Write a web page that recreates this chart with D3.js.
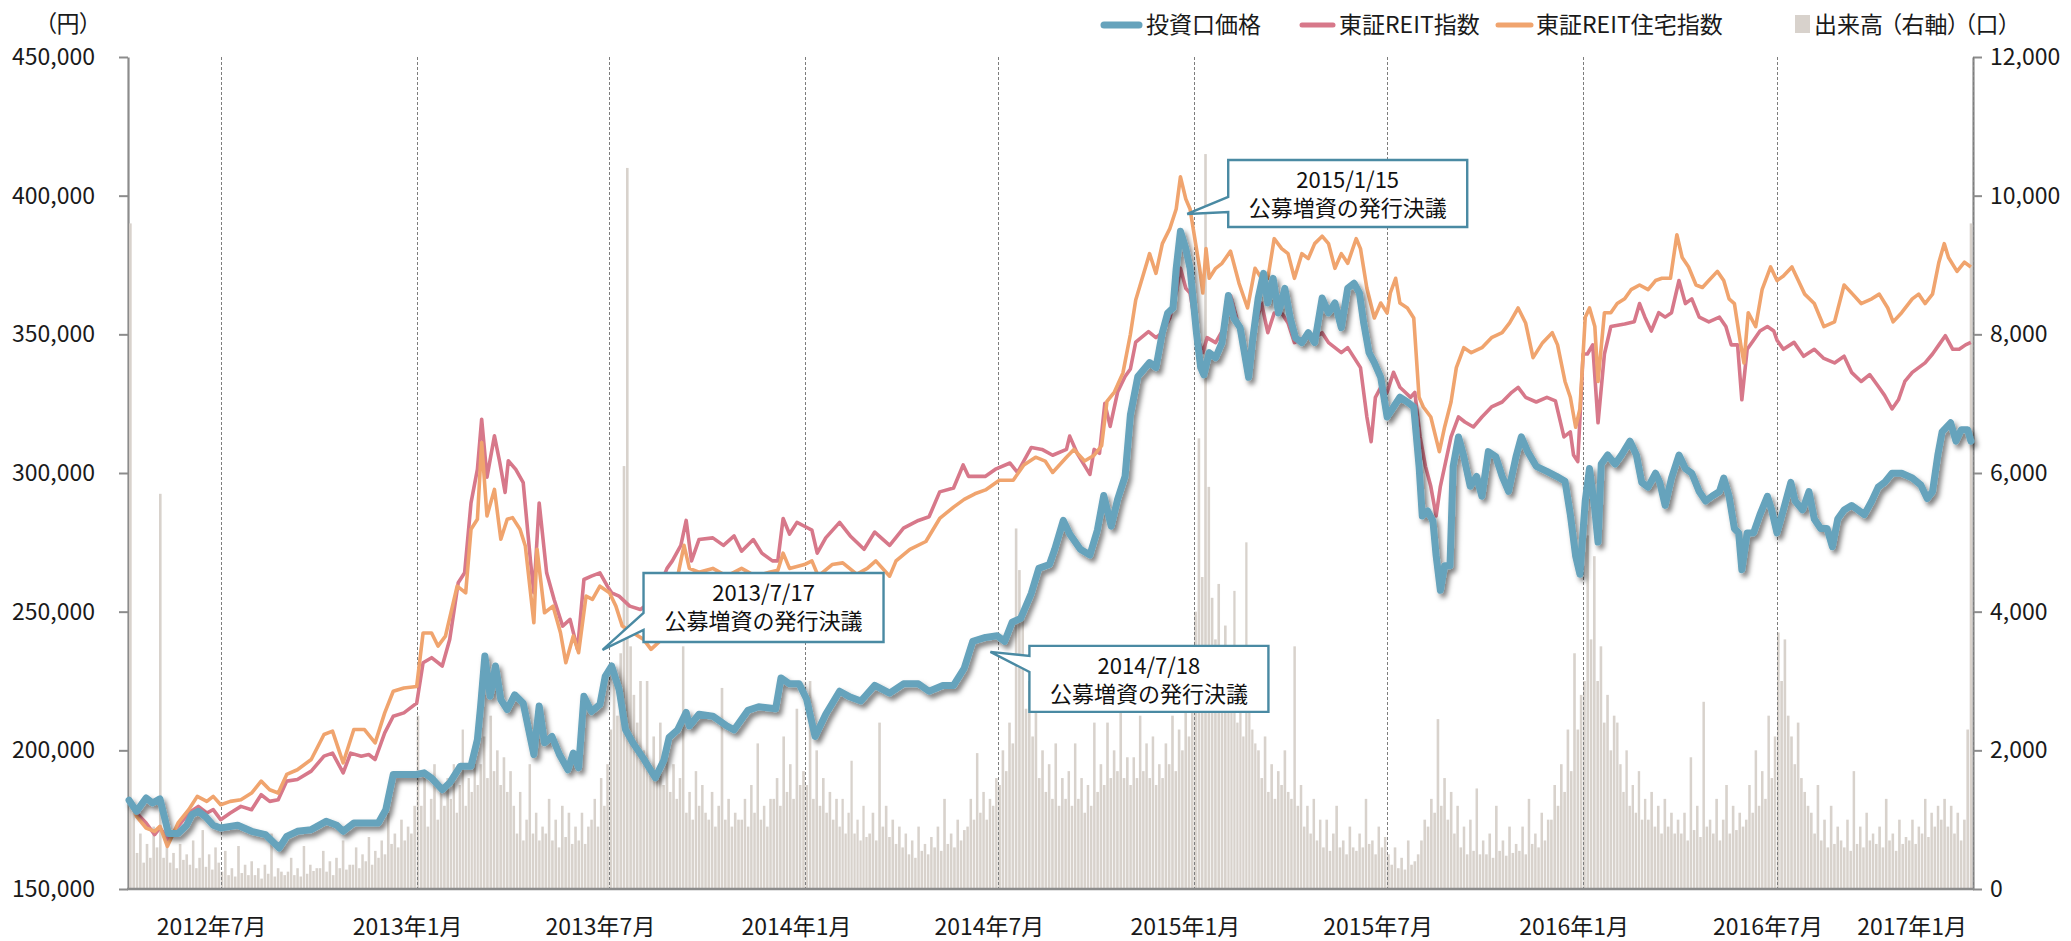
<!DOCTYPE html>
<html lang="ja">
<head>
<meta charset="utf-8">
<script src="https://cdn.jsdelivr.net/npm/d3@7"></script>
<style>
html,body{margin:0;padding:0;background:#fff;}
svg{display:block;font-family:"Noto Sans CJK JP","Noto Sans",sans-serif;}
.palt{font-feature-settings:"palt";}
</style>
</head>
<body>
<svg id="chart" width="2071" height="941"></svg>
<script>
// 投資口価格（円）
const priceData = [
["2012-04-06",182000],["2012-04-13",178000],["2012-04-22",182800],["2012-04-28",181000],["2012-05-05",182500],
["2012-05-13",170000],["2012-05-22",170000],["2012-05-30",173000],["2012-06-04",176800],["2012-06-10",178000],
["2012-06-17",176000],["2012-06-24",173000],["2012-07-01",172000],["2012-07-17",173000],["2012-07-30",170800],
["2012-08-12",169600],["2012-08-25",164800],["2012-09-01",169000],["2012-09-11",170800],["2012-09-24",171400],
["2012-10-08",174400],["2012-10-18",173000],["2012-10-24",170800],["2012-11-03",173800],["2012-11-17",173800],
["2012-11-26",173800],["2012-12-03",178600],["2012-12-10",191300],["2012-12-20",191300],["2013-01-01",191300],
["2013-01-08",191900],["2013-01-15",190000],["2013-01-25",185800],["2013-02-01",188300],["2013-02-11",194300],
["2013-02-21",194300],["2013-02-27",203900],["2013-03-02",215900],["2013-03-06",234000],["2013-03-11",219500],
["2013-03-16",230400],["2013-03-21",218300],["2013-03-27",214700],["2013-04-03",220000],["2013-04-11",217000],
["2013-04-18",204000],["2013-04-21",198500],["2013-04-26",216000],["2013-05-01",202700],["2013-05-08",205000],
["2013-05-15",198500],["2013-05-23",193000],["2013-05-28",199000],["2013-06-02",193700],["2013-06-07",219500],
["2013-06-14",214000],["2013-06-22",216500],["2013-06-27",226700],["2013-07-03",230400],["2013-07-10",222000],
["2013-07-16",207500],["2013-07-23",202700],["2013-08-02",197000],["2013-08-13",190100],["2013-08-21",196400],
["2013-08-26",204700],["2013-09-03",207400],["2013-09-11",213700],["2013-09-14",208800],["2013-09-23",213000],
["2013-10-06",212300],["2013-10-19",208800],["2013-10-26",207400],["2013-11-08",214400],["2013-11-18",215700],
["2013-12-04",215000],["2013-12-09",226100],["2013-12-17",224000],["2013-12-26",224000],["2014-01-02",218500],
["2014-01-10",205000],["2014-01-20",213000],["2014-02-02",221300],["2014-02-12",219200],["2014-02-22",217800],
["2014-03-07",223400],["2014-03-21",220600],["2014-04-03",224000],["2014-04-17",224000],["2014-04-27",221300],
["2014-05-10",223400],["2014-05-20",223400],["2014-05-30",229600],["2014-06-07",239300],["2014-06-19",240700],
["2014-06-30",241300],["2014-07-07",239300],["2014-07-14",246200],["2014-07-22",247600],["2014-08-01",256600],
["2014-08-08",265600],["2014-08-18",267000],["2014-08-23",272500],["2014-08-31",282900],["2014-09-06",278000],
["2014-09-16",272500],["2014-09-25",270400],["2014-10-02",279400],["2014-10-08",291900],["2014-10-15",280800],
["2014-10-21",290500],["2014-10-28",298800],["2014-11-02",320900],["2014-11-09",334800],["2014-11-20",339800],
["2014-11-26",338000],["2014-12-02",350600],["2014-12-07",357700],["2014-12-12",359500],["2014-12-15",373800],
["2014-12-19",387200],["2014-12-24",380900],["2014-12-28",373800],["2015-01-03",350600],["2015-01-07",338000],
["2015-01-10",335400],["2015-01-15",343400],["2015-01-21",341600],["2015-01-27",347000],["2015-02-02",364000],
["2015-02-07",355900],["2015-02-13",352400],["2015-02-21",334500],["2015-02-25",348800],["2015-03-02",363100],
["2015-03-07",372000],["2015-03-11",361300],["2015-03-16",370200],["2015-03-21",357700],["2015-03-27",366600],
["2015-04-01",355900],["2015-04-06",348800],["2015-04-12",347000],["2015-04-18",350600],["2015-04-24",347000],
["2015-05-01",363100],["2015-05-07",357700],["2015-05-13",361300],["2015-05-19",352400],["2015-05-25",366600],
["2015-05-31",368400],["2015-06-05",364900],["2015-06-09",354100],["2015-06-14",343400],["2015-06-19",339800],
["2015-06-25",334500],["2015-07-01",320200],["2015-07-07",323800],["2015-07-13",327300],["2015-07-20",325600],
["2015-07-26",323800],["2015-07-31",302400],["2015-08-03",284500],["2015-08-08",286300],["2015-08-13",282700],
["2015-08-16",270200],["2015-08-20",257700],["2015-08-24",266600],["2015-08-29",266600],["2015-09-01",302400],
["2015-09-06",313000],["2015-09-11",305900],["2015-09-17",295200],["2015-09-23",298800],["2015-09-28",291600],
["2015-10-04",307700],["2015-10-11",305900],["2015-10-17",298800],["2015-10-23",293400],["2015-10-30",305900],
["2015-11-04",313000],["2015-11-10",307700],["2015-11-18",302400],["2015-11-28",300600],["2015-12-07",298800],
["2015-12-15",297000],["2015-12-20",285000],["2015-12-25",270000],["2015-12-29",263500],["2016-01-03",290000],
["2016-01-07",301600],["2016-01-12",286700],["2016-01-15",275100],["2016-01-18",303200],["2016-01-24",306500],
["2016-01-31",303200],["2016-02-06",306500],["2016-02-14",311500],["2016-02-20",306500],["2016-02-25",296600],
["2016-03-02",294900],["2016-03-09",299900],["2016-03-13",296600],["2016-03-18",288300],["2016-03-24",298200],
["2016-03-31",306500],["2016-04-06",301600],["2016-04-12",299900],["2016-04-19",293300],["2016-04-25",289900],
["2016-05-01",291600],["2016-05-08",293300],["2016-05-12",298200],["2016-05-17",291600],["2016-05-22",280000],
["2016-05-26",278400],["2016-05-29",265100],["2016-06-03",278400],["2016-06-09",278400],["2016-06-15",285000],
["2016-06-22",291600],["2016-06-26",286700],["2016-07-01",278400],["2016-07-07",286700],["2016-07-14",296600],
["2016-07-18",289900],["2016-07-25",286700],["2016-07-31",293300],["2016-08-05",283400],["2016-08-11",280000],
["2016-08-17",280000],["2016-08-22",273400],["2016-08-27",283400],["2016-09-02",286700],["2016-09-09",288300],
["2016-09-15",286700],["2016-09-21",285000],["2016-09-28",289900],["2016-10-04",294900],["2016-10-10",296600],
["2016-10-17",299900],["2016-10-26",299900],["2016-11-05",298200],["2016-11-13",295700],["2016-11-19",290800],
["2016-11-24",293300],["2016-11-29",306500],["2016-12-03",314800],["2016-12-11",318100],["2016-12-16",311500],
["2016-12-21",315600],["2016-12-27",315600],["2016-12-30",311500]
];

// 東証REIT指数（投資口価格の初日と揃えて換算）
const reitData = [
["2012-04-06",182000],["2012-04-13",177400],["2012-04-22",173800],["2012-04-30",169600],["2012-05-05",172000],
["2012-05-13",167800],["2012-05-22",172600],["2012-06-01",177400],["2012-06-10",179800],["2012-06-18",177400],
["2012-06-24",178600],["2012-07-01",175000],["2012-07-10",177400],["2012-07-20",179800],["2012-07-30",178600],
["2012-08-08",184000],["2012-08-16",181600],["2012-08-24",182200],["2012-09-01",188900],["2012-09-11",189500],
["2012-09-24",192500],["2012-10-06",197900],["2012-10-14",199000],["2012-10-24",191900],["2012-10-31",199000],
["2012-11-10",197900],["2012-11-17",198500],["2012-11-23",196700],["2012-12-02",206300],["2012-12-10",212300],
["2012-12-20",213500],["2013-01-01",217000],["2013-01-07",231600],["2013-01-15",233400],["2013-01-25",230400],
["2013-02-01",240000],["2013-02-09",260400],["2013-02-15",264000],["2013-02-21",289200],["2013-02-27",301300],
["2013-03-03",319400],["2013-03-08",298500],["2013-03-15",313400],["2013-03-20",303800],["2013-03-25",293000],
["2013-03-28",304400],["2013-04-04",301300],["2013-04-11",296500],["2013-04-18",267600],["2013-04-21",256800],
["2013-04-26",289200],["2013-05-03",264000],["2013-05-10",254400],["2013-05-18",244800],["2013-05-25",247200],
["2013-06-01",236400],["2013-06-07",261600],["2013-06-14",262800],["2013-06-22",264000],["2013-06-29",259200],
["2013-07-03",256800],["2013-07-10",255600],["2013-07-20",252000],["2013-07-30",250800],["2013-08-12",254400],
["2013-08-24",265600],["2013-08-29",268300],["2013-09-06",273900],["2013-09-11",282900],["2013-09-16",268300],
["2013-09-23",276000],["2013-10-06",276600],["2013-10-16",273900],["2013-10-26",277300],["2013-11-02",271800],
["2013-11-13",276000],["2013-11-21",271100],["2013-12-01",268300],["2013-12-06",268300],["2013-12-11",283600],
["2013-12-17",278000],["2013-12-24",282200],["2013-12-31",280800],["2014-01-07",279400],["2014-01-12",271100],
["2014-01-20",276600],["2014-02-02",282200],["2014-02-12",277300],["2014-02-25",272500],["2014-03-07",278700],
["2014-03-21",273900],["2014-04-03",280100],["2014-04-17",282900],["2014-04-27",284200],["2014-05-07",293200],
["2014-05-20",294600],["2014-05-29",302900],["2014-06-03",298800],["2014-06-19",298800],["2014-06-29",301500],
["2014-07-12",303600],["2014-07-19",300200],["2014-08-01",309200],["2014-08-11",308500],["2014-08-21",306400],
["2014-09-03",308500],["2014-09-06",313300],["2014-09-13",307100],["2014-09-25",299500],["2014-09-29",308500],
["2014-10-04",307100],["2014-10-09",325100],["2014-10-14",316800],["2014-10-21",329200],["2014-10-28",334800],
["2014-11-02",337500],["2014-11-07",347200],["2014-11-19",351000],["2014-11-26",348800],["2014-12-02",350600],
["2014-12-09",355900],["2014-12-15",364900],["2014-12-19",373800],["2014-12-24",366600],["2014-12-28",364900],
["2015-01-04",348800],["2015-01-09",343400],["2015-01-13",348800],["2015-01-21",347000],["2015-01-29",352400],
["2015-02-04",364000],["2015-02-11",354100],["2015-02-17",345200],["2015-02-21",341600],["2015-02-27",352400],
["2015-03-05",361300],["2015-03-11",350600],["2015-03-17",357700],["2015-03-24",357700],["2015-03-30",354100],
["2015-04-05",347000],["2015-04-14",348800],["2015-04-24",348800],["2015-05-01",350600],["2015-05-07",347000],
["2015-05-13",345200],["2015-05-19",343400],["2015-05-25",345200],["2015-05-31",341600],["2015-06-06",338000],
["2015-06-12",320200],["2015-06-16",311300],["2015-06-20",327300],["2015-06-25",330900],["2015-07-01",329100],
["2015-07-07",336300],["2015-07-13",330900],["2015-07-23",327300],["2015-07-27",329100],["2015-08-01",313000],
["2015-08-06",302400],["2015-08-11",295200],["2015-08-16",284500],["2015-08-20",295200],["2015-08-25",304100],
["2015-08-30",313000],["2015-09-06",320200],["2015-09-12",318400],["2015-09-20",316600],["2015-09-28",320200],
["2015-10-07",323800],["2015-10-17",325600],["2015-10-26",329100],["2015-11-01",330900],["2015-11-08",327300],
["2015-11-18",325600],["2015-11-28",327300],["2015-12-06",326000],["2015-12-14",313000],["2015-12-20",314800],
["2015-12-23",306500],["2015-12-27",304100],["2016-01-01",342900],["2016-01-05",342900],["2016-01-10",346200],
["2016-01-15",318100],["2016-01-21",342900],["2016-01-27",352800],["2016-02-09",353700],["2016-02-18",354500],
["2016-02-23",361100],["2016-02-28",356200],["2016-03-05",351200],["2016-03-12",357800],["2016-03-18",356200],
["2016-03-24",357800],["2016-03-31",369400],["2016-04-06",361100],["2016-04-12",362800],["2016-04-19",356200],
["2016-04-28",354500],["2016-05-08",356200],["2016-05-14",352800],["2016-05-19",346200],["2016-05-25",346200],
["2016-05-29",326400],["2016-06-03",344600],["2016-06-09",347900],["2016-06-15",351200],["2016-06-22",352800],
["2016-06-28",351200],["2016-07-01",347900],["2016-07-07",344600],["2016-07-17",347100],["2016-07-26",342100],
["2016-08-05",344600],["2016-08-14",341300],["2016-08-24",339700],["2016-09-02",342100],["2016-09-09",336300],
["2016-09-18",333000],["2016-09-26",335500],["2016-10-04",331300],["2016-10-10",328000],["2016-10-17",323100],
["2016-10-23",326400],["2016-10-29",333000],["2016-11-05",336300],["2016-11-11",338000],["2016-11-17",339700],
["2016-11-24",342900],["2016-11-30",346200],["2016-12-06",349500],["2016-12-13",344600],["2016-12-19",344600],
["2016-12-25",346200],["2016-12-30",347100]
];

// 東証REIT住宅指数（同上）
const residentialData = [
["2012-04-06",182800],["2012-04-13",176200],["2012-04-22",172000],["2012-04-30",170800],["2012-05-05",172600],
["2012-05-12",165400],["2012-05-22",173800],["2012-06-01",178600],["2012-06-09",183400],["2012-06-18",181600],
["2012-06-24",183400],["2012-07-01",180400],["2012-07-10",181600],["2012-07-20",182200],["2012-07-30",184600],
["2012-08-08",188900],["2012-08-16",185800],["2012-08-24",184600],["2012-09-01",191300],["2012-09-11",193000],
["2012-09-24",196700],["2012-10-06",205700],["2012-10-14",206900],["2012-10-24",195500],["2012-11-03",207500],
["2012-11-13",207500],["2012-11-23",202700],["2012-12-02",213500],["2012-12-10",221300],["2012-12-20",222500],
["2013-01-01",223000],["2013-01-07",242300],["2013-01-15",242300],["2013-01-21",237600],["2013-01-28",241200],
["2013-02-08",259200],["2013-02-16",256800],["2013-02-21",279700],["2013-02-27",283300],["2013-03-03",311000],
["2013-03-08",284500],["2013-03-15",294100],["2013-03-21",276100],["2013-03-27",283300],["2013-04-01",283900],
["2013-04-08",279700],["2013-04-13",273700],["2013-04-21",246000],["2013-04-24",272500],["2013-05-01",249600],
["2013-05-09",252000],["2013-05-16",242400],["2013-05-21",231600],["2013-05-28",241200],["2013-06-02",235200],
["2013-06-09",255600],["2013-06-15",254400],["2013-06-22",259200],["2013-07-01",256800],["2013-07-07",252000],
["2013-07-13",244800],["2013-07-23",242400],["2013-08-02",240000],["2013-08-09",236400],["2013-08-19",240000],
["2013-08-27",257300],["2013-09-03",262800],["2013-09-09",273900],["2013-09-14",265600],["2013-09-23",264200],
["2013-10-06",265600],["2013-10-19",262800],["2013-11-02",265600],["2013-11-15",262800],["2013-11-28",264200],
["2013-12-06",264900],["2013-12-11",271100],["2013-12-17",265600],["2013-12-31",267000],["2014-01-07",268300],
["2014-01-13",262800],["2014-01-26",267000],["2014-02-05",267600],["2014-02-18",263500],["2014-02-28",265600],
["2014-03-08",268300],["2014-03-21",262800],["2014-03-27",268300],["2014-04-09",272500],["2014-04-24",275300],
["2014-05-07",283600],["2014-05-20",287700],["2014-05-30",290500],["2014-06-09",292500],["2014-06-19",293900],
["2014-07-02",297400],["2014-07-15",297400],["2014-07-25",302900],["2014-08-05",305700],["2014-08-14",304300],
["2014-08-21",300200],["2014-09-03",305700],["2014-09-10",308500],["2014-09-20",304300],["2014-09-29",306400],
["2014-10-06",309900],["2014-10-11",325800],["2014-10-18",329200],["2014-10-26",336100],["2014-11-02",350000],
["2014-11-07",362400],["2014-11-20",379100],["2014-11-26",372000],["2014-12-02",382700],["2014-12-09",388100],
["2014-12-15",395200],["2014-12-19",406800],["2014-12-24",398800],["2014-12-28",395200],["2015-01-03",380900],
["2015-01-06",373800],["2015-01-09",364900],["2015-01-12",380900],["2015-01-15",370200],["2015-01-21",373800],
["2015-01-27",375600],["2015-02-04",380000],["2015-02-12",368400],["2015-02-20",359500],["2015-02-27",373800],
["2015-03-05",370200],["2015-03-11",370200],["2015-03-17",384500],["2015-03-24",380900],["2015-03-30",379100],
["2015-04-05",370200],["2015-04-12",379100],["2015-04-18",377300],["2015-04-24",382700],["2015-05-01",385400],
["2015-05-07",382700],["2015-05-13",373800],["2015-05-19",379100],["2015-05-25",375600],["2015-06-02",384500],
["2015-06-06",380900],["2015-06-12",366600],["2015-06-19",355900],["2015-06-25",361300],["2015-07-01",357700],
["2015-07-04",364900],["2015-07-09",370200],["2015-07-13",361300],["2015-07-20",359500],["2015-07-26",355900],
["2015-07-31",327300],["2015-08-04",323800],["2015-08-11",320200],["2015-08-19",307700],["2015-08-24",316600],
["2015-08-30",325600],["2015-09-04",338000],["2015-09-11",345200],["2015-09-18",343400],["2015-09-28",345200],
["2015-10-07",348800],["2015-10-17",350600],["2015-10-24",354100],["2015-11-01",359500],["2015-11-08",354100],
["2015-11-15",341600],["2015-11-24",347000],["2015-12-03",350600],["2015-12-08",346200],["2015-12-15",333000],
["2015-12-20",327300],["2015-12-25",316500],["2015-12-29",323100],["2016-01-03",356200],["2016-01-07",359500],
["2016-01-12",352800],["2016-01-15",333000],["2016-01-21",357800],["2016-01-27",357800],["2016-02-02",361100],
["2016-02-09",362800],["2016-02-15",366100],["2016-02-23",367800],["2016-03-02",366100],["2016-03-09",369400],
["2016-03-15",370200],["2016-03-23",370200],["2016-03-29",385900],["2016-04-03",377700],["2016-04-09",374300],
["2016-04-16",367800],["2016-04-22",366900],["2016-04-28",369400],["2016-05-06",372700],["2016-05-12",369400],
["2016-05-17",362800],["2016-05-22",361100],["2016-05-28",346200],["2016-05-31",339700],["2016-06-04",357800],
["2016-06-11",352800],["2016-06-17",366100],["2016-06-25",374300],["2016-07-01",369400],["2016-07-07",371000],
["2016-07-15",374300],["2016-07-21",369400],["2016-07-27",364500],["2016-08-05",361100],["2016-08-14",352800],
["2016-08-24",354500],["2016-09-02",367800],["2016-09-10",364500],["2016-09-18",361100],["2016-09-28",362800],
["2016-10-05",364500],["2016-10-13",359500],["2016-10-18",354500],["2016-10-26",357800],["2016-11-05",362800],
["2016-11-11",364500],["2016-11-17",361100],["2016-11-24",364500],["2016-11-30",376000],["2016-12-05",382700],
["2016-12-09",377700],["2016-12-17",372700],["2016-12-24",376000],["2016-12-30",374300]
];

// 出来高（口）: months, and the values recorded within each month in order
const volumeMonths = [
"2012-04","2012-05","2012-06","2012-07","2012-08","2012-09","2012-10","2012-11","2012-12",
"2013-01","2013-02","2013-03","2013-04","2013-05","2013-06","2013-07","2013-08","2013-09","2013-10","2013-11","2013-12",
"2014-01","2014-02","2014-03","2014-04","2014-05","2014-06","2014-07","2014-08","2014-09","2014-10","2014-11","2014-12",
"2015-01","2015-02","2015-03","2015-04","2015-05","2015-06","2015-07","2015-08","2015-09","2015-10","2015-11","2015-12",
"2016-01","2016-02","2016-03","2016-04","2016-05","2016-06","2016-07","2016-08","2016-09","2016-10","2016-11","2016-12"
];
const volumeValues = [
[9600,1150,520,800,380,650,450,900],
[600,5700,450,700,380,520,300,650,420,500],
[350,700,300,450,850,320,500,280,600,380],
[250,550,200,300,180,620,230,350,200,400],
[200,300,150,350,220,800,180,300,250,200],
[250,450,200,300,180,620,220,350,260,300],
[300,550,250,400,200,450,300,700,280,350],
[350,600,300,500,400,750,350,550,450,700],
[500,1100,650,800,600,1000,700,900,800,1200],
[2500,1200,1600,900,1300,1800,1000,1400,1200,1600],
[1300,1800,1100,1500,2300,1200,1600,1400,1900,1500],
[1800,2200,1600,2500,1700,2000,1500,1900,1400,1700],
[1200,800,1400,700,1000,1800,800,1100,700,900],
[800,1300,700,1000,600,1200,750,1100,650,900],
[700,1100,650,900,1000,1300,900,1600,1200,1800],
[2300,3200,2500,3400,6100,10400,3500,2800,2400,3000],
[2000,3000,1700,2200,1600,2400,1500,1900,1400,1800],
[1300,1600,3500,1100,1400,1000,1700,1200,1500,1100],
[1000,1400,900,1200,2900,1000,1300,900,1100,1000],
[1000,1300,900,1500,1100,2100,1000,1200,900,1300],
[1300,1600,1200,2200,1400,1800,1300,2600,1500,1700],
[1500,3000,1300,2000,1200,1600,1100,1400,1000,1300],
[900,1300,800,1100,1850,800,1000,700,1200,750],
[800,1100,700,2400,900,1200,750,1000,650,900],
[600,800,500,700,450,900,550,650,500,750],
[600,900,550,1300,650,800,600,1000,700,850],
[900,1300,1000,1960,1100,1400,1000,1300,1200,1600],
[1500,2000,1700,2400,2100,5200,4600,4000,2600,3000],
[2200,2600,1600,2000,1400,1800,1300,2100,1200,1600],
[1300,1700,1200,2100,1300,1600,1100,1500,1200,2400],
[1400,1800,1500,2400,1600,2000,1700,2700,1600,1900],
[1500,1900,1600,2500,1700,2100,1600,2200,1500,1800],
[1600,2100,1800,2500,1700,2300,2000,3500,2200,2600],
[4000,6500,4500,10600,5800,4200,3600,4400,3200,3800],
[3000,2600,4300,2400,2800,2200,5000,2600,2300,2100],
[2000,1600,2200,1400,1800,1300,1700,1500,2000,1400],
[1300,3500,1200,1500,900,1200,800,1300,700,1000],
[600,1000,550,800,1200,600,700,500,900,600],
[550,800,600,1300,650,700,500,900,600,750],
[500,350,600,300,450,280,700,350,400,500],
[700,1000,900,1300,1100,2450,1200,1600,1000,1400],
[800,1200,600,900,500,1000,550,1450,500,700],
[500,800,450,1200,550,700,480,900,520,650],
[550,900,500,1300,650,800,600,1100,700,1000],
[1000,1500,1200,1800,1400,2300,1700,3400,2300,2800],
[3000,5100,3600,4800,3000,3500,2400,2800,2000,2500],
[2400,1800,1400,2000,1200,1500,1100,1700,1000,1300],
[1000,1400,900,1200,800,1300,900,1100,800,1000],
[800,1100,700,1900,850,1200,750,2700,900,1000],
[800,1300,700,1000,1500,800,1200,850,1100,900],
[1000,1500,1100,2000,1200,1700,1300,2500,1600,2200],
[3700,3000,3600,2500,2200,1800,2400,1600,1400,1200],
[1100,800,1500,700,1000,600,1200,650,900,700],
[600,1000,550,1700,650,900,600,1100,700,800],
[650,900,600,1300,700,800,550,1000,650,750],
[700,1000,650,900,800,1300,750,1100,900,1200],
[1000,1300,900,1200,800,1100,700,1000,2300,9600]
];

const priceTicks = [150000,200000,250000,300000,350000,400000,450000];
const volumeTicks = [0,2000,4000,6000,8000,10000,12000];
const monthTicks = ["2012-07-01","2013-01-01","2013-07-01","2014-01-01","2014-07-01","2015-01-01","2015-07-01","2016-01-01","2016-07-01","2017-01-01"];
const monthTickLabels = ["2012年7月","2013年1月","2013年7月","2014年1月","2014年7月","2015年1月","2015年7月","2016年1月","2016年7月","2017年1月"];
const seriesNames = ["投資口価格","東証REIT指数","東証REIT住宅指数","出来高（右軸）"];
const callouts = [
  {date:"2013-07-17", value:236200, lines:["2013/7/17","公募増資の発行決議"]},
  {date:"2014-07-18", value:235500, lines:["2014/7/18","公募増資の発行決議"]},
  {date:"2015-01-15", value:393400, lines:["2015/1/15","公募増資の発行決議"]}
];

// ---- drawing ----
const M = {left:128, right:1973, top:57, bottom:889};
const parse = d3.timeParse("%Y-%m-%d");
const parseMonth = d3.timeParse("%Y-%m");
const colors = {price:"#66a3bc", reit:"#d7788a", resi:"#f0a46e", vol:"#d8d2cc", axis:"#8c8c8c", grid:"#7d7d7d", box:"#4a8aa3"};
const FONT = 23;

const svg = d3.select("#chart");
const defs = svg.append("defs");
const shadow = defs.append("filter").attr("id","lineShadow")
  .attr("x","-5%").attr("y","-10%").attr("width","110%").attr("height","130%");
shadow.append("feDropShadow").attr("dx",3).attr("dy",4).attr("stdDeviation",2.8)
  .attr("flood-color","#000").attr("flood-opacity",0.5);

const x = d3.scaleTime().domain([parse("2012-04-05"), parse("2017-01-01")]).range([M.left, M.right]);
const yL = d3.scaleLinear().domain([150000,450000]).range([M.bottom, M.top]);
const yR = d3.scaleLinear().domain([0,12000]).range([M.bottom, M.top]);

// axes (left / right)
const axL = d3.axisLeft(yL).tickValues(priceTicks).tickFormat(d3.format(",")).tickSizeInner(9).tickSizeOuter(0).tickPadding(24);
const gL = svg.append("g").attr("transform",`translate(${M.left},0)`).call(axL);
const axR = d3.axisRight(yR).tickValues(volumeTicks).tickFormat(d3.format(",")).tickSizeInner(9).tickSizeOuter(0).tickPadding(8);
const gR = svg.append("g").attr("transform",`translate(${M.right},0)`).call(axR);
[gL,gR].forEach(g=>{
  g.select(".domain").attr("stroke",colors.axis).attr("stroke-width",2.2);
  g.selectAll(".tick line").attr("stroke",colors.axis).attr("stroke-width",2);
  g.selectAll(".tick text").attr("fill","#1a1a1a").style("font-size",FONT+"px").style("font-family",'"Noto Sans CJK JP",sans-serif');
});

// volume bars: each month's records spread across that month
const domainStart = x.domain()[0];
const volBars = [];
volumeMonths.forEach((m,i)=>{
  const ms = parseMonth(m);
  const start = ms < domainStart ? parse("2012-04-06") : ms;
  const end = d3.timeMonth.offset(ms,1);
  const vals = volumeValues[i];
  const step = (end - start) / vals.length;
  vals.forEach((v,j)=>volBars.push({t0:new Date(+start + j*step), t1:new Date(+start + (j+1)*step), v}));
});
svg.append("g").selectAll("rect").data(volBars).join("rect")
  .attr("x",d=>x(d.t0))
  .attr("width",d=>Math.max(0.8, x(d.t1)-x(d.t0)-0.7))
  .attr("y",d=>yR(d.v))
  .attr("height",d=>yR(0)-yR(d.v))
  .attr("fill",colors.vol);

// half-year guides
const gGrid = svg.append("g");
monthTicks.forEach(s=>{
  const xx = Math.round(x(parse(s)))+0.5;
  gGrid.append("line").attr("x1",xx).attr("x2",xx).attr("y1",M.top).attr("y2",M.bottom)
    .attr("stroke",colors.grid).attr("stroke-width",1).attr("stroke-dasharray","3,2");
});

// lines
const line = d3.line().x(d=>x(parse(d[0]))).y(d=>yL(d[1])).curve(d3.curveLinear);
svg.append("path").datum(reitData).attr("d",line).attr("fill","none")
  .attr("stroke",colors.reit).attr("stroke-width",3.6).attr("stroke-linejoin","round");
svg.append("path").datum(residentialData).attr("d",line).attr("fill","none")
  .attr("stroke",colors.resi).attr("stroke-width",3.6).attr("stroke-linejoin","round");
svg.append("path").datum(priceData).attr("d",line).attr("fill","none")
  .attr("stroke",colors.price).attr("stroke-width",7).attr("stroke-linejoin","round").attr("stroke-linecap","round")
  .attr("filter","url(#lineShadow)");

// bottom axis line
svg.append("line").attr("x1",M.left-1).attr("x2",M.right+1).attr("y1",M.bottom).attr("y2",M.bottom)
  .attr("stroke",colors.axis).attr("stroke-width",2.4);

// x labels
const gX = svg.append("g").style("font-size",FONT+"px").attr("fill","#1a1a1a");
monthTicks.forEach((s,i)=>{
  const last = i === monthTicks.length-1;
  gX.append("text")
    .attr("x", last ? x(parse(s)) - 6 : x(parse(s)) - 9)
    .attr("y", 935)
    .attr("text-anchor", last ? "end" : "middle")
    .text(monthTickLabels[i]);
});

// unit labels
svg.append("text").attr("class","palt").attr("x",45).attr("y",32).style("font-size",FONT+"px").attr("fill","#1a1a1a").text("（円）");
svg.append("text").attr("class","palt").attr("x",1964).attr("y",33).style("font-size",FONT+"px").attr("fill","#1a1a1a").text("（口）");

// legend
const lg = svg.append("g").attr("class","palt").style("font-size",FONT+"px").attr("fill","#1a1a1a");
const legendItems = [
  {name:seriesNames[0], color:colors.price, sx:1104, ex:1139, tx:1146, w:7},
  {name:seriesNames[1], color:colors.reit, sx:1302, ex:1333, tx:1339, w:5},
  {name:seriesNames[2], color:colors.resi, sx:1498, ex:1531, tx:1536, w:5}
];
legendItems.forEach(it=>{
  lg.append("line").attr("x1",it.sx).attr("x2",it.ex).attr("y1",25).attr("y2",25)
    .attr("stroke",it.color).attr("stroke-width",it.w).attr("stroke-linecap","round");
  lg.append("text").attr("x",it.tx).attr("y",33).text(it.name);
});
lg.append("rect").attr("x",1795).attr("y",15).attr("width",15).attr("height",18).attr("fill",colors.vol);
{
  // split at the opening bracket so the bracket keeps a little space before it
  const name = seriesNames[3], k = name.indexOf("（");
  const t = lg.append("text").attr("x",1814).attr("y",33);
  t.append("tspan").text(name.slice(0,k));
  t.append("tspan").attr("dx",7).text(name.slice(k));
}

// callouts
const calloutLayout = [
  {tipDx:-24, dx:41, dy:-77, w:240, h:69, w0:40, w1:57},
  {tipDx:-26, dx:39, dy:-6,  w:239, h:66, w0:10, w1:26},
  {tipDx:-22, dx:41, dy:-54, w:239, h:67, w0:37, w1:52}
];
const gC = svg.append("g");
callouts.forEach((c,i)=>{
  const L = calloutLayout[i];
  const tx = x(parse(c.date)) + L.tipDx, ty = yL(c.value);
  const bx = tx + L.dx, by = ty + L.dy;
  const p = d3.path();
  p.moveTo(bx,by); p.lineTo(bx+L.w,by); p.lineTo(bx+L.w,by+L.h); p.lineTo(bx,by+L.h);
  p.lineTo(bx,by+L.w1); p.lineTo(tx,ty); p.lineTo(bx,by+L.w0); p.closePath();
  gC.append("path").attr("d",p.toString()).attr("fill","#fff").attr("stroke",colors.box).attr("stroke-width",2.4).attr("stroke-linejoin","miter");
  const t = gC.append("text").attr("text-anchor","middle").style("font-size","22px").attr("fill","#111");
  t.append("tspan").attr("x",bx+L.w/2).attr("y",by+28).text(c.lines[0]);
  t.append("tspan").attr("x",bx+L.w/2).attr("y",by+56).text(c.lines[1]);
});
</script>
</body>
</html>
